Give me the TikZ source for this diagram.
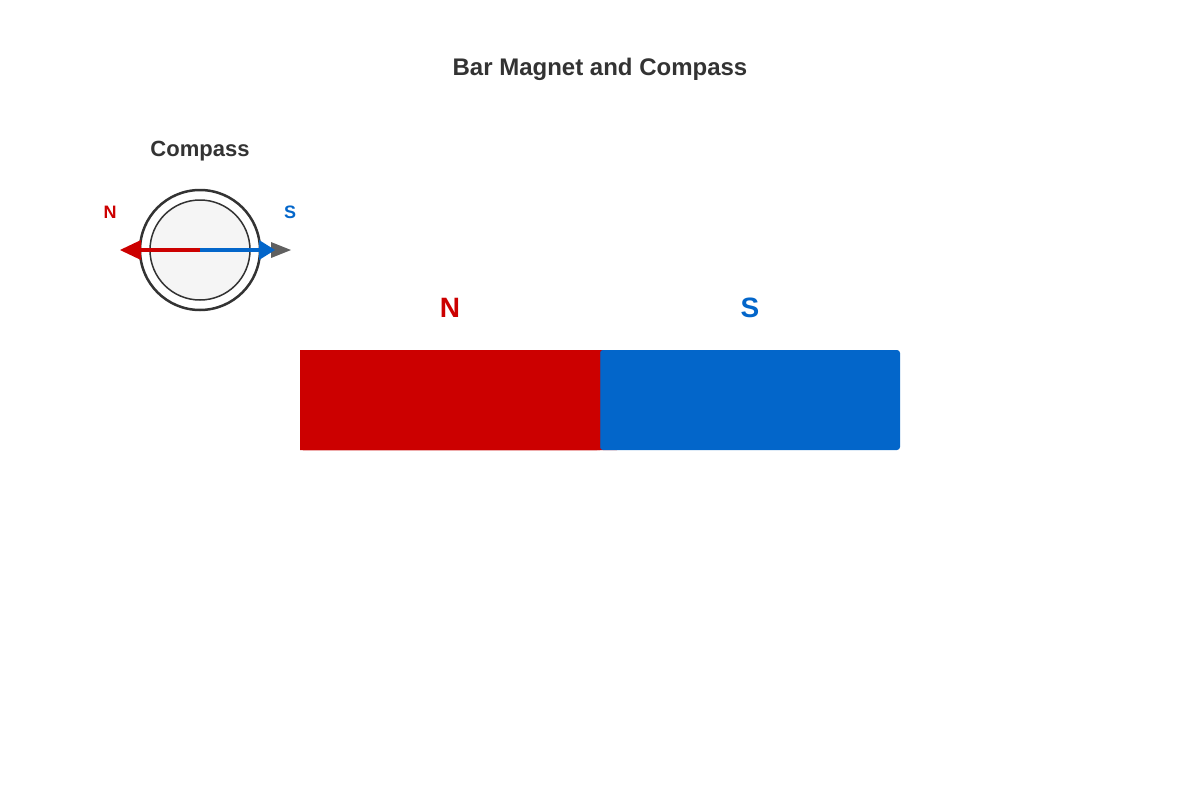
\documentclass[tikz,border=0pt]{standalone}
\usepackage{fontspec}
\setmainfont{Liberation Sans}
\begin{document}
\begin{tikzpicture}[x=1pt,y=-1pt,
  lbl/.style={font=\bfseries, inner sep=0pt},
  tip/.style={inner sep=0pt}]
\definecolor{nred}{HTML}{CC0000}
\definecolor{sblue}{HTML}{0366CA}
\definecolor{txt}{HTML}{333333}
\useasboundingbox (0,0) rectangle (1200,800);
\node[lbl,text=txt,font=\bfseries\fontsize{24}{28}\selectfont] (title) at (600,69) {Bar Magnet and Compass};
\node[lbl,text=txt,font=\bfseries\fontsize{22}{26}\selectfont] (ctitle) at (200,151) {Compass};
\node[circle,draw=txt,line width=2.5pt,fill=white,minimum size=120pt,inner sep=0pt] (outer) at (200,250) {};
\node[circle,draw=txt,line width=1.5pt,fill=black!4,minimum size=100pt,inner sep=0pt] (inner) at (200,250) {};
\coordinate (c) at (200,250);
\coordinate (rt) at (120,250);
\coordinate (bt) at (275,250);
\coordinate (gt) at (291,250);
\fill[gray!75!black] (gt) -- (271,242) -- (271,258) -- cycle;
\draw[nred,line width=3.5pt] (c) -- (138,250);
\fill[nred] (rt) -- (141,240) -- (141,260) -- cycle;
\draw[sblue,line width=3.5pt] (c) -- (262,250);
\fill[sblue] (bt) -- (259,240) -- (259,260) -- cycle;
\node[lbl,text=nred,font=\bfseries\fontsize{18}{20}\selectfont] (cn) at (110,212) {N};
\node[lbl,text=sblue,font=\bfseries\fontsize{18}{20}\selectfont] (cs) at (290,212) {S};
\fill[nred,rounded corners=3pt] (300,350) rectangle (620,450);
\fill[sblue,rounded corners=3pt] (600,350) rectangle (900,450);
\fill[nred] (300,350) -- (300,350) rectangle (600,450);
\fill[nred,rounded corners=3pt] (300,350) rectangle (600,450);
\fill[nred] (590,350) rectangle (600,450);
\node[lbl,text=nred,font=\bfseries\fontsize{28}{32}\selectfont] (mn) at (450,308) {N};
\node[lbl,text=sblue,font=\bfseries\fontsize{28}{32}\selectfont] (ms) at (750,308) {S};
\end{tikzpicture}
\end{document}
